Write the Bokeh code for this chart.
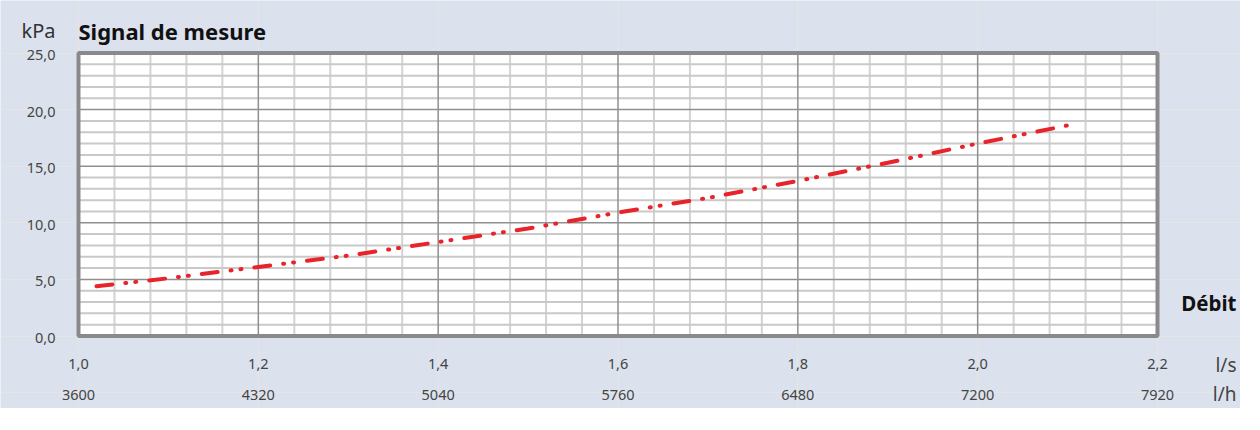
from bokeh.plotting import figure
from bokeh.models import Range1d, Label, LabelSet, ColumnDataSource
from bokeh.core.properties import value
from bokeh.embed import file_html
from bokeh.resources import INLINE

# ---- data ----
flow_ls = [1.02, 1.10, 1.20, 1.30, 1.40, 1.50, 1.60, 1.70, 1.80, 1.90, 2.00, 2.10]
signal_kpa = [4.4, 5.1, 6.1, 7.1, 8.3, 9.5, 10.9, 12.2, 13.7, 15.3, 17.0, 18.6]

y_ticks = [0, 5, 10, 15, 20, 25]
y_labels = ["0,0", "5,0", "10,0", "15,0", "20,0", "25,0"]
x_ticks = [1.0, 1.2, 1.4, 1.6, 1.8, 2.0, 2.2]
x_labels_ls = ["1,0", "1,2", "1,4", "1,6", "1,8", "2,0", "2,2"]
x_labels_lh = ["3600", "4320", "5040", "5760", "6480", "7200", "7920"]
x_minor_step = 0.04
y_minor_step = 1.0

title_text = "Signal de mesure"
y_unit = "kPa"
x_name = "Débit"
x_unit_ls = "l/s"
x_unit_lh = "l/h"

# ---- style / layout ----
BG = "#dbe2ee"
FONT = "Noto Sans"
RED = "#e8232a"
FRAME = "#8a8a8a"
MAJOR = "#8f8f8f"
MINOR_V = "#d3d3d3"
MINOR_H = "#c9c9c9"
TXT = "#444444"

W, H = 1240, 408
FL, FR, FT, FB = 78, 1157, 52.5, 335.5   # plot-area edges in canvas px

x0, x1 = x_ticks[0], x_ticks[-1]
y0, y1 = y_ticks[0], y_ticks[-1]
kx = (FR - FL) / (x1 - x0)
ky = (FB - FT) / (y1 - y0)

p = figure(width=W, height=H, output_backend="svg", toolbar_location=None,
           x_range=Range1d(x0 - FL / kx, x1 + (W - FR) / kx),
           y_range=Range1d(y0 - (H - FB) / ky, y1 + FT / ky),
           x_axis_location=None, y_axis_location=None,
           min_border_left=0, min_border_right=0, min_border_top=0, min_border_bottom=0)
p.border_fill_color = BG
p.background_fill_color = BG
p.outline_line_color = None

# plot area
p.quad(left=[x0], right=[x1], bottom=[y0], top=[y1], fill_color="white", line_color=None)

n_x = int(round((x1 - x0) / x_minor_step))
minor_x = [round(x0 + i * x_minor_step, 4) for i in range(n_x + 1)]
minor_x = [v for v in minor_x if all(abs(v - t) > 1e-6 for t in x_ticks)]
n_y = int(round((y1 - y0) / y_minor_step))
minor_y = [y0 + i * y_minor_step for i in range(n_y + 1)]
minor_y = [v for v in minor_y if all(abs(v - t) > 1e-6 for t in y_ticks)]

p.segment(x0=minor_x, x1=minor_x, y0=[y0] * len(minor_x), y1=[y1] * len(minor_x),
          line_color=MINOR_V, line_width=2)
p.segment(x0=[x0] * len(minor_y), x1=[x1] * len(minor_y), y0=minor_y, y1=minor_y,
          line_color=MINOR_H, line_width=2)
p.segment(x0=x_ticks, x1=x_ticks, y0=[y0] * len(x_ticks), y1=[y1] * len(x_ticks),
          line_color=MAJOR, line_width=1.5)
p.segment(x0=[x0] * len(y_ticks), x1=[x1] * len(y_ticks), y0=y_ticks, y1=y_ticks,
          line_color=MAJOR, line_width=1.5)
p.quad(left=[x0], right=[x1], bottom=[y0], top=[y1], fill_color=None,
       line_color=FRAME, line_width=4)

p.line(flow_ls, signal_kpa, line_color=RED, line_width=4,
       line_dash="16 13 1 9 1 13", line_cap="round")

def sy(cy):  # canvas y (from top) -> screen units (up from bottom)
    return H - cy

# y tick labels
ysrc = ColumnDataSource(dict(y=y_ticks, t=y_labels))
p.add_layout(LabelSet(source=ysrc, x=55, y="y", text="t", x_units="screen", y_units="data",
                      y_offset=-2, text_align="right", text_baseline="middle",
                      text_font=value(FONT), text_font_size=value("14.5px"),
                      text_color=value(TXT)))

# x tick labels (l/s and l/h)
xsrc = ColumnDataSource(dict(x=x_ticks, ls=x_labels_ls, lh=x_labels_lh))
p.add_layout(LabelSet(source=xsrc, x="x", y=sy(368), text="ls", x_units="data", y_units="screen",
                      text_align="center", text_baseline="alphabetic",
                      text_font=value(FONT), text_font_size=value("14.5px"),
                      text_color=value(TXT)))
p.add_layout(LabelSet(source=xsrc, x="x", y=sy(399.5), text="lh", x_units="data", y_units="screen",
                      text_align="center", text_baseline="alphabetic",
                      text_font=value(FONT), text_font_size=value("14.5px"),
                      text_color=value(TXT)))

def lab(x, y, text, size, bold=False, align="left", color="#222222"):
    p.add_layout(Label(x=x, y=sy(y), x_units="screen", y_units="screen", text=text,
                       text_font=FONT, text_font_size=size,
                       text_font_style="bold" if bold else "normal",
                       text_align=align, text_baseline="alphabetic", text_color=color))

lab(55, 30, y_unit, "20px", align="right", color="#333333")
lab(78, 30, title_text, "22px", bold=True, color="#111111")
lab(1236, 302, x_name, "20.5px", bold=True, align="right", color="#111111")
lab(1236, 364, x_unit_ls, "19px", align="right", color=TXT)
lab(1236, 393, x_unit_lh, "19px", align="right", color=TXT)

open("out.html", "w").write(file_html(p, INLINE))
